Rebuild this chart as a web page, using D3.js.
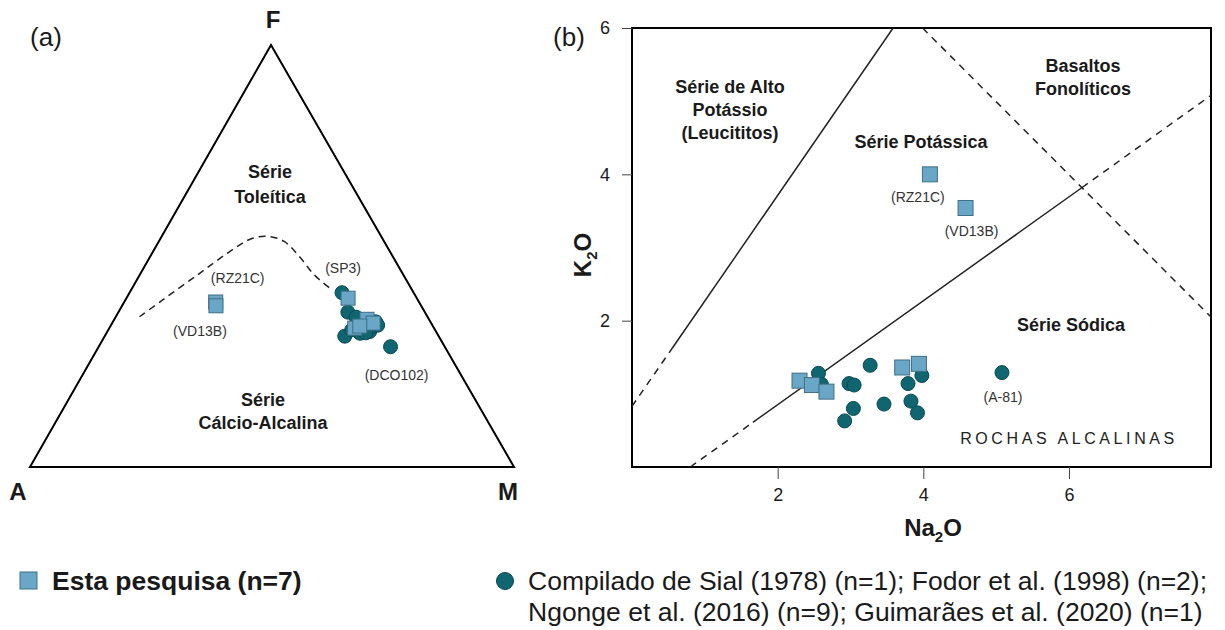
<!DOCTYPE html>
<html>
<head>
<meta charset="utf-8">
<script src="https://cdn.jsdelivr.net/npm/d3@7"></script>
<style>
  html, body { margin: 0; padding: 0; background: #fff; }
  svg { display: block; font-family: "Liberation Sans", Arial, sans-serif; }
</style>
</head>
<body>
<svg id="chart" width="1225" height="630"></svg>
<script>
// ---------- AFM ternary (a): compositions as [A, F, M] percentages ----------
const afmBoundary = [
  [59.5, 35.6, 4.9], [52.7, 39.6, 7.7], [41.9, 45.9, 12.2], [33.2, 51.0, 15.8],
  [26.8, 54.2, 19.0], [23.1, 54.6, 22.3], [20.6, 53.4, 26.0], [19.3, 49.8, 30.9],
  [18.4, 45.5, 36.1], [16.5, 41.9, 41.6]
];
const afmThisWork = [
  [42.0, 39.1, 18.9], [42.4, 38.2, 19.4], [14.2, 40.0, 45.8], [12.8, 35.0, 52.2],
  [12.0, 34.1, 53.9], [16.4, 32.9, 50.7], [15.1, 33.4, 51.5]
];
const afmThisWorkNames = ["RZ21C", "VD13B", "SP3", "", "", "", ""];
const afmCompiled = [
  [14.8, 41.3, 43.9], [15.9, 36.7, 47.4], [14.8, 35.5, 49.7], [19.4, 31.0, 49.6],
  [15.9, 31.7, 52.4], [13.7, 32.1, 54.2], [11.3, 34.4, 54.3], [11.2, 28.5, 60.3],
  [14.3, 33.4, 52.3], [12.7, 33.2, 54.1], [17.2, 32.5, 50.3], [14.7, 31.8, 53.5],
  [11.3, 33.6, 55.1]
];
const afmCompiledNames = ["", "", "", "", "", "", "", "DCO102", "", "", "", "", ""];

// ---------- Na2O vs K2O (b) ----------
const naThisWork = [2.30, 2.47, 2.67, 3.71, 3.94, 4.09, 4.58];
const kThisWork  = [1.18, 1.12, 1.03, 1.36, 1.41, 4.00, 3.54];
const namesThisWork = ["", "", "", "", "", "RZ21C", "VD13B"];
const naCompiled = [2.56, 2.60, 2.98, 3.05, 3.27, 3.04, 2.92, 3.46, 3.79, 3.98, 3.83, 3.92, 5.08];
const kCompiled  = [1.28, 1.13, 1.14, 1.12, 1.39, 0.80, 0.63, 0.86, 1.14, 1.25, 0.90, 0.74, 1.29];
const namesCompiled = ["", "", "", "", "", "", "", "", "", "", "", "", "A-81"];
const xTicks = [2, 4, 6];
const yTicks = [2, 4, 6];
// field boundaries: [Na2O, K2O] end points, solid or dashed
const fieldLines = [
  { pts: [[0, 0.83], [0.55, 1.62]], dashed: true },
  { pts: [[0.55, 1.62], [3.585, 6]], dashed: false },
  { pts: [[3.99, 6], [7.95, 2.05]], dashed: true },
  { pts: [[0.8, 0], [1.66, 0.61]], dashed: true },
  { pts: [[1.66, 0.61], [6.18, 3.82]], dashed: false },
  { pts: [[6.18, 3.82], [7.95, 5.08]], dashed: true }
];

const SQ_FILL = "#6aa7c6", SQ_STROKE = "#3f6f87";
const CI_FILL = "#0f6570", CI_STROKE = "#0a4a52";
const TXT = "#1a1a1a";

const svg = d3.select("#chart");

// ===================== (a) ternary =====================
const vA = [30, 467], vM = [514, 467], vF = [271, 45];
const fScaleY = d3.scaleLinear().domain([0, 100]).range([vA[1], vF[1]]);
const mScaleX = d3.scaleLinear().domain([0, 100]).range([0, vM[0] - vA[0]]);
const fScaleX = d3.scaleLinear().domain([0, 100]).range([0, vF[0] - vA[0]]);
const proj = d => [vA[0] + mScaleX(d[2]) + fScaleX(d[1]), fScaleY(d[1])];

const ga = svg.append("g");
ga.append("path")
  .attr("d", d3.line()([proj([100, 0, 0]), proj([0, 100, 0]), proj([0, 0, 100])]) + "Z")
  .attr("fill", "none").attr("stroke", "#000").attr("stroke-width", 2)
  .attr("stroke-linejoin", "miter");

ga.append("path")
  .attr("d", d3.line().curve(d3.curveCatmullRom)(afmBoundary.map(proj)))
  .attr("fill", "none").attr("stroke", "#222").attr("stroke-width", 1.5)
  .attr("stroke-dasharray", "7,5");

ga.selectAll("circle.c").data(afmCompiled).join("circle")
  .attr("cx", d => proj(d)[0]).attr("cy", d => proj(d)[1]).attr("r", 7)
  .attr("fill", CI_FILL).attr("stroke", CI_STROKE).attr("stroke-width", 1);
ga.selectAll("rect.s").data(afmThisWork).join("rect")
  .attr("x", d => proj(d)[0] - 7).attr("y", d => proj(d)[1] - 7)
  .attr("width", 14).attr("height", 14)
  .attr("fill", SQ_FILL).attr("stroke", SQ_STROKE).attr("stroke-width", 1);

// sample names in (a)
const afmLabelOffsets = { RZ21C: [22, -23], VD13B: [-16, 27], SP3: [-5, -29], DCO102: [6, 30] };
function afmLabels(data, names) {
  data.forEach((d, i) => {
    const n = names[i];
    if (!n) return;
    const p = proj(d), o = afmLabelOffsets[n];
    ga.append("text").attr("x", p[0] + o[0]).attr("y", p[1] + o[1])
      .attr("text-anchor", "middle").attr("dominant-baseline", "middle")
      .attr("font-size", 14).attr("fill", "#333").text("(" + n + ")");
  });
}
afmLabels(afmThisWork, afmThisWorkNames);
afmLabels(afmCompiled, afmCompiledNames);

const vertexLabel = (t, x, y) => ga.append("text").attr("x", x).attr("y", y)
  .attr("text-anchor", "middle").attr("dominant-baseline", "middle")
  .attr("font-size", 24).attr("font-weight", "bold").attr("fill", TXT).text(t);
vertexLabel("F", 273, 22);
vertexLabel("A", 18, 494);
vertexLabel("M", 508, 494);

const fieldText = (g, lines, x, y, lh, size) => {
  lines.forEach((t, i) => g.append("text").attr("x", x).attr("y", y + i * lh)
    .attr("text-anchor", "middle").attr("dominant-baseline", "middle")
    .attr("font-size", size || 18).attr("font-weight", "bold").attr("fill", TXT).text(t));
};
fieldText(ga, ["Série", "Toleítica"], 270, 173, 25);
fieldText(ga, ["Série", "Cálcio-Alcalina"], 263, 401, 23);

ga.append("text").attr("x", 46).attr("y", 39).attr("text-anchor", "middle")
  .attr("dominant-baseline", "middle").attr("font-size", 26).attr("fill", TXT).text("(a)");

// ===================== (b) Na2O vs K2O =====================
const x = d3.scaleLinear().domain([0, 7.95]).range([632, 1211]);
const y = d3.scaleLinear().domain([0, 6]).range([467, 28]);
const gb = svg.append("g");

gb.append("rect").attr("x", x(0)).attr("y", y(6))
  .attr("width", x(7.95) - x(0)).attr("height", y(0) - y(6))
  .attr("fill", "none").attr("stroke", "#000").attr("stroke-width", 2);

const xAxis = gb.append("g").attr("transform", `translate(0,${y(0)})`)
  .call(d3.axisBottom(x).tickValues(xTicks).tickSize(12).tickPadding(9).tickFormat(d3.format("d")));
const yAxis = gb.append("g").attr("transform", `translate(${x(0)},0)`)
  .call(d3.axisLeft(y).tickValues(yTicks).tickSize(10).tickPadding(12).tickFormat(d3.format("d")));
[xAxis, yAxis].forEach(a => {
  a.select(".domain").remove();
  a.selectAll(".tick line").attr("stroke", "#444").attr("stroke-width", 1);
  a.selectAll(".tick text").attr("font-size", 18).attr("fill", TXT)
    .attr("font-family", "Liberation Sans, Arial, sans-serif");
});

const lineGen = d3.line().x(d => x(d[0])).y(d => y(d[1]));
gb.selectAll("path.field").data(fieldLines).join("path")
  .attr("d", d => lineGen(d.pts))
  .attr("fill", "none").attr("stroke", "#222").attr("stroke-width", 1.5)
  .attr("stroke-dasharray", d => d.dashed ? "7,6" : null);

gb.selectAll("circle.c").data(naCompiled).join("circle")
  .attr("cx", (d, i) => x(d)).attr("cy", (d, i) => y(kCompiled[i])).attr("r", 7)
  .attr("fill", CI_FILL).attr("stroke", CI_STROKE).attr("stroke-width", 1);
gb.selectAll("rect.s").data(naThisWork).join("rect")
  .attr("x", (d, i) => x(d) - 7.5).attr("y", (d, i) => y(kThisWork[i]) - 7.5)
  .attr("width", 15).attr("height", 15)
  .attr("fill", SQ_FILL).attr("stroke", SQ_STROKE).attr("stroke-width", 1);

const bLabelOffsets = { RZ21C: [-12, 24], VD13B: [6, 24], "A-81": [1, 26] };
function bLabels(xs, ys, names) {
  names.forEach((n, i) => {
    if (!n) return;
    const o = bLabelOffsets[n];
    gb.append("text").attr("x", x(xs[i]) + o[0]).attr("y", y(ys[i]) + o[1])
      .attr("text-anchor", "middle").attr("dominant-baseline", "middle")
      .attr("font-size", 14).attr("fill", "#333").text("(" + n + ")");
  });
}
bLabels(naThisWork, kThisWork, namesThisWork);
bLabels(naCompiled, kCompiled, namesCompiled);

fieldText(gb, ["Série de Alto", "Potássio", "(Leucititos)"], 730, 88, 23);
fieldText(gb, ["Série Potássica"], 921, 143, 23);
fieldText(gb, ["Basaltos", "Fonolíticos"], 1083, 67, 23);
fieldText(gb, ["Série Sódica"], 1071, 326, 23);

gb.append("text").attr("x", 1069).attr("y", 440).attr("text-anchor", "middle")
  .attr("dominant-baseline", "middle").attr("font-size", 16).attr("letter-spacing", 3.6)
  .attr("fill", "#222").text("ROCHAS ALCALINAS");

// axis titles with subscripts
function chemLabel(g, a, sub, b) {
  const t = g.append("text").attr("text-anchor", "middle")
    .attr("font-size", 24).attr("font-weight", "bold").attr("fill", TXT);
  t.append("tspan").text(a);
  t.append("tspan").attr("font-size", 15).attr("dy", 6).text(sub);
  t.append("tspan").attr("dy", -6).text(b);
  return t;
}
chemLabel(gb, "Na", "2", "O").attr("x", 933).attr("y", 536);
chemLabel(gb, "K", "2", "O").attr("transform", "translate(591,255) rotate(-90)");

gb.append("text").attr("x", 569).attr("y", 39).attr("text-anchor", "middle")
  .attr("dominant-baseline", "middle").attr("font-size", 26).attr("fill", TXT).text("(b)");

// ===================== legend =====================
const lg = svg.append("g");
lg.append("rect").attr("x", 20).attr("y", 572).attr("width", 17).attr("height", 17)
  .attr("fill", SQ_FILL).attr("stroke", SQ_STROKE).attr("stroke-width", 1);
lg.append("text").attr("x", 52).attr("y", 590).attr("font-size", 26.5)
  .attr("font-weight", "bold").attr("fill", TXT).text("Esta pesquisa (n=7)");
lg.append("circle").attr("cx", 505).attr("cy", 581).attr("r", 8.5)
  .attr("fill", CI_FILL).attr("stroke", CI_STROKE).attr("stroke-width", 1);
lg.append("text").attr("x", 528).attr("y", 590).attr("font-size", 26.5).attr("fill", TXT)
  .text("Compilado de Sial (1978) (n=1); Fodor et al. (1998) (n=2);");
lg.append("text").attr("x", 528).attr("y", 621).attr("font-size", 26.5).attr("fill", TXT)
  .text("Ngonge et al. (2016) (n=9); Guimarães et al. (2020) (n=1)");
</script>
</body>
</html>
